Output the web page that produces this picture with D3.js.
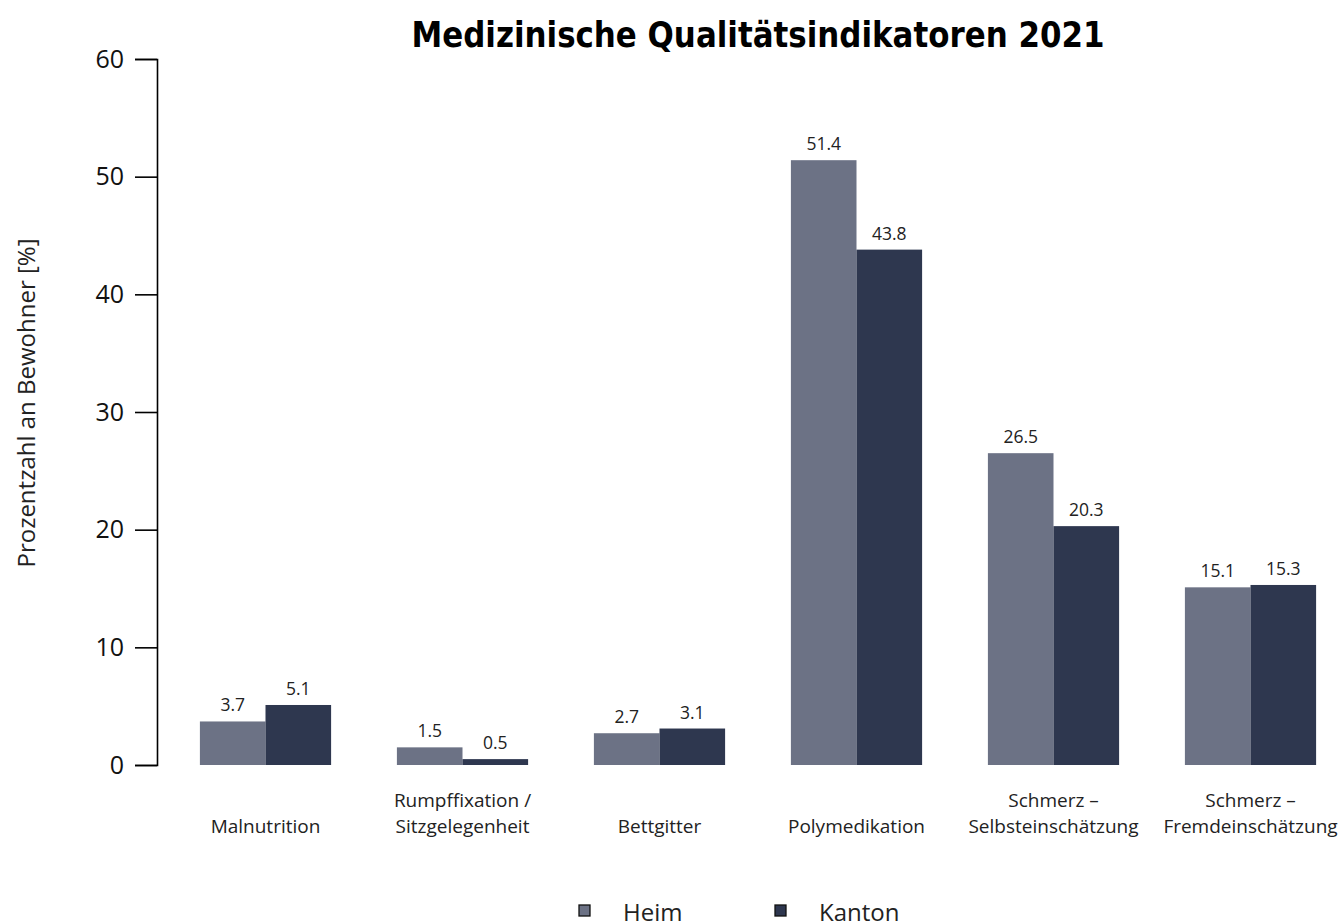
<!DOCTYPE html>
<html><head><meta charset="utf-8">
<script src="https://cdn.jsdelivr.net/npm/d3@7"></script>
<style>body{margin:0;background:#fff}svg{display:block}</style>
</head><body>
<svg id="c" width="1341" height="923"></svg>
<script>
const categories = [["Malnutrition"],["Rumpffixation /","Sitzgelegenheit"],["Bettgitter"],["Polymedikation"],["Schmerz –","Selbsteinschätzung"],["Schmerz –","Fremdeinschätzung"]];
const heim = [3.7, 1.5, 2.7, 51.4, 26.5, 15.1];
const kanton = [5.1, 0.5, 3.1, 43.8, 20.3, 15.3];
const seriesNames = ["Heim","Kanton"];
const colors = ["#6c7285","#2e374f"];
const yTicks = [0,10,20,30,40,50,60];

const svg = d3.select("#c");
const font = "'Open Sans', 'Noto Sans', sans-serif";
const y = d3.scaleLinear().domain([0,60]).range([765,59]);
const x0 = d3.scaleBand().domain(d3.range(categories.length)).range([167,1349]).paddingInner(0.334).paddingOuter(0.167);
const x1 = d3.scaleBand().domain([0,1]).range([0,x0.bandwidth()]);

// y axis
const ax = svg.append("g").attr("transform","translate(157,0)")
  .call(d3.axisLeft(y).tickValues(yTicks).tickSize(22).tickPadding(11));
ax.select(".domain").attr("d","M-22,765.5H0.5V59.5H-22").attr("stroke","#000").attr("stroke-width",1.6).attr("fill","none");
ax.selectAll(".tick line").attr("stroke","#000").attr("stroke-width",1.6);
ax.selectAll(".tick text").attr("font-family",font).attr("font-size",25).attr("fill","#111");

svg.append("text").attr("transform","translate(35,403) rotate(-90)")
  .attr("text-anchor","middle").attr("font-family",font).attr("font-size",24).attr("fill","#222")
  .text("Prozentzahl an Bewohner [%]");

svg.append("text").attr("x",758).attr("y",47).attr("text-anchor","middle")
  .attr("font-family","'Liberation Sans Narrow','DejaVu Sans Condensed','Open Sans',sans-serif")
  .attr("font-weight","bold").attr("font-size",35).attr("fill","#000")
  .attr("textLength",693).attr("lengthAdjust","spacingAndGlyphs")
  .text("Medizinische Qualitätsindikatoren 2021");

const data = categories.map((c,i)=>({i, vals:[heim[i],kanton[i]]}));
const g = svg.append("g").selectAll("g").data(data).join("g")
  .attr("transform",d=>`translate(${x0(d.i)},0)`);
g.selectAll("rect").data(d=>d.vals.map((v,k)=>({v,k}))).join("rect")
  .attr("x",d=>x1(d.k)).attr("width",x1.bandwidth())
  .attr("y",d=>y(d.v)).attr("height",d=>y(0)-y(d.v)).attr("fill",d=>colors[d.k]);
g.selectAll("text.v").data(d=>d.vals.map((v,k)=>({v,k}))).join("text").attr("class","v")
  .attr("x",d=>x1(d.k)+x1.bandwidth()/2).attr("y",d=>y(d.v)-10)
  .attr("text-anchor","middle").attr("font-family",font).attr("font-size",17.5).attr("fill","#222")
  .text(d=>d.v.toFixed(1));

// category labels
const cl = svg.append("g").selectAll("text").data(categories).join("text")
  .attr("x",(d,i)=>x0(i)+x0.bandwidth()/2)
  .attr("text-anchor","middle").attr("font-family",font).attr("font-size",19).attr("fill","#222");
cl.each(function(d){
  const t = d3.select(this);
  const start = d.length===1 ? 833 : 807;
  d.forEach((line,j)=>t.append("tspan").attr("x",t.attr("x")).attr("y",start+j*26).text(line));
});

// legend
const lg = svg.append("g").selectAll("g").data(seriesNames).join("g")
  .attr("transform",(d,i)=>`translate(${579+i*196},905)`);
lg.append("rect").attr("width",11).attr("height",11).attr("fill",(d,i)=>colors[i]).attr("stroke","#111").attr("stroke-width",1.3);
lg.append("text").attr("x",44).attr("y",16).attr("font-family",font).attr("font-size",24).attr("fill","#222").text(d=>d);
</script>
</body></html>
